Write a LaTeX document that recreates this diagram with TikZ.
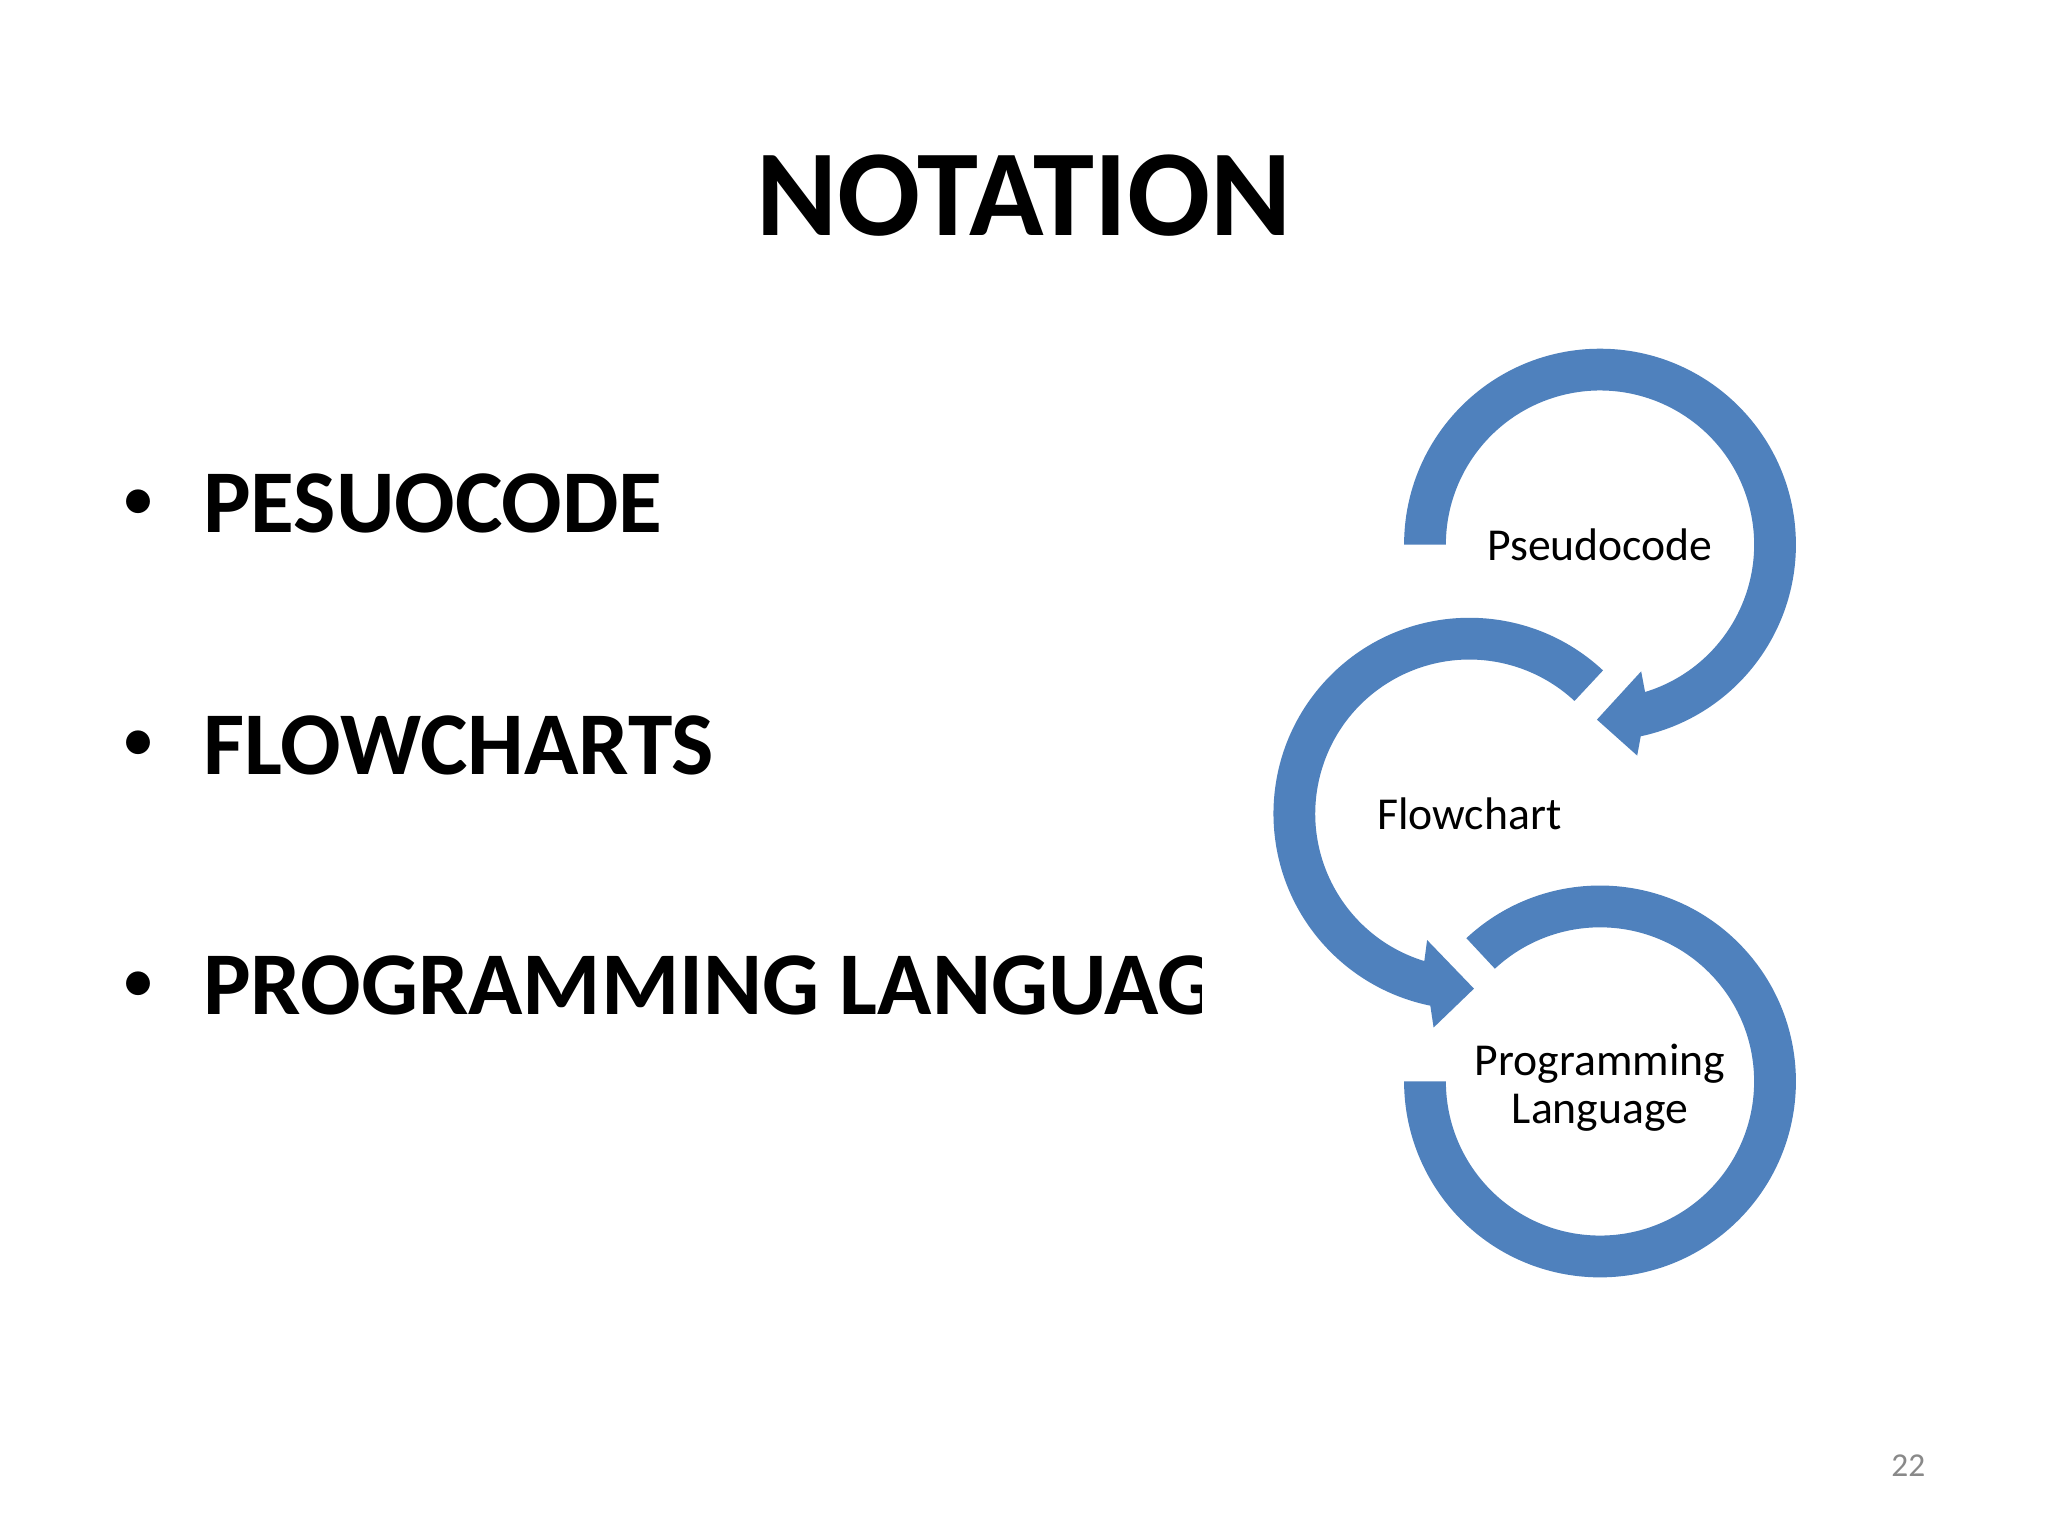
\documentclass[tikz,border=0pt]{standalone}
\usepackage{fontspec}
\setmainfont{Carlito}
\usepackage{tikz}
\usetikzlibrary{calc}
\definecolor{ColBlue}{RGB}{79,129,189}
\definecolor{ColGray}{RGB}{137,137,137}
\tikzstyle{TitleText}=[inner sep=0pt,anchor=base,font=\fontsize{35}{42}\selectfont\bfseries]
\tikzstyle{BulletText}=[inner sep=0pt,anchor=base west,font=\fontsize{25.5}{30}\selectfont\bfseries]
\tikzstyle{BulletDot}=[inner sep=0pt,anchor=base west,font=\fontsize{16}{19}\selectfont\bfseries]
\tikzstyle{CycleLabel}=[inner sep=0pt,align=center,font=\fontsize{13}{13.7}\selectfont]
\tikzstyle{CycleArrow}=[fill=ColBlue]

\begin{document}
\begin{tikzpicture}[x=0.013061cm,y=0.013061cm]
        \useasboundingbox (0,0) rectangle (1568,1176);
        \fill[white] (0,0) rectangle (1568,1176);
        \node[TitleText](title)at(784,996){NOTATION};
        \node[BulletDot](d1)at(95,780){•};
        \node[BulletText](t1)at(155,768){PESUOCODE};
        \node[BulletDot](d2)at(95,595){•};
        \node[BulletText](t2)at(155,583){FLOWCHARTS};
        \node[BulletDot](d3)at(95,411){•};
        \begin{scope}
            \clip (0,0) rectangle (920,1176);
            \node[BulletText](t3)at(155,399){PROGRAMMING LANGUAGE};
        \end{scope}
        \node[CycleLabel](pseudo)at(1225,759){Pseudocode};
        \node[CycleLabel](flow)at(1125,553){Flowchart};
        \coordinate(cprog)at(1225,348);
        \node[CycleLabel](prog)at($(cprog)+(0,-5)$){Programming\\Language};
        % cycle arrows
        \fill[CycleArrow]($(pseudo.center)+(180:150)$)arc[start angle=180,end angle=-78,radius=150]
            --($(pseudo.center)+(-80:164)$)--($(pseudo.center)+(-91:134)$)--($(pseudo.center)+(-72:102)$)
            --($(pseudo.center)+(-73:118)$)arc[start angle=-73,end angle=180,radius=118]--cycle;
        \fill[CycleArrow]($(flow.center)+(47:150)$)arc[start angle=47,end angle=258.5,radius=150]
            --($(flow.center)+(260.5:166)$)--($(flow.center)+(271.5:134)$)--($(flow.center)+(251.5:102)$)
            --($(flow.center)+(253:118)$)arc[start angle=253,end angle=47,radius=118]--cycle;
        \fill[CycleArrow]($(cprog)+(133:150)$)arc[start angle=133,end angle=-180,radius=150]
            --($(cprog)+(-180:118)$)arc[start angle=-180,end angle=133,radius=118]--cycle;
        \node[inner sep=0pt,text=ColGray,font=\fontsize{9.5}{11}\selectfont](pnum)at(1461,54){22};
    \end{tikzpicture}
\end{document}
